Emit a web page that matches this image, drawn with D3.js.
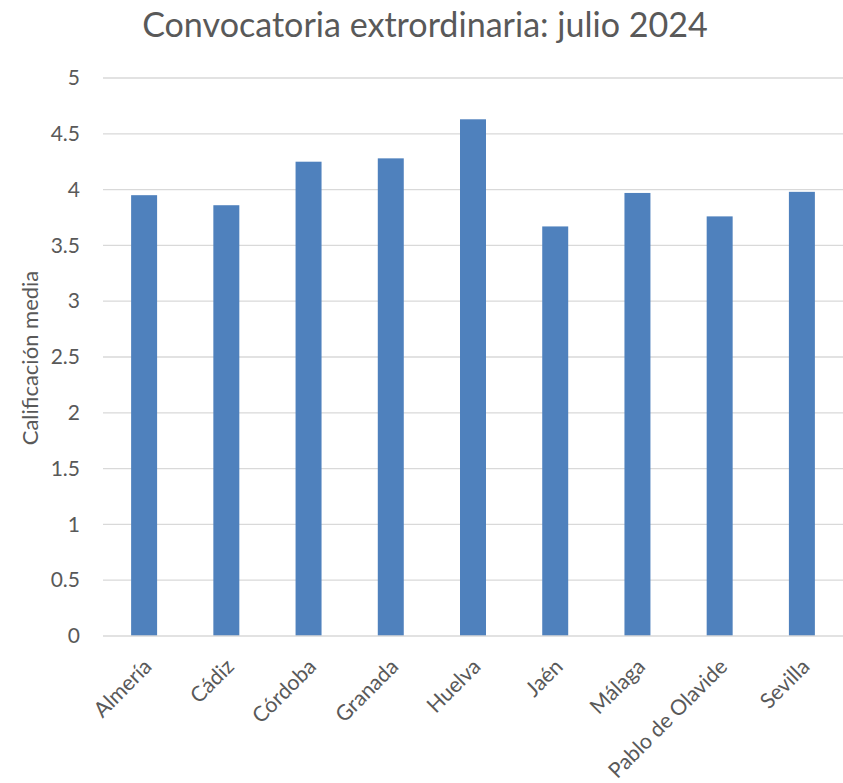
<!DOCTYPE html>
<html>
<head>
<meta charset="utf-8">
<script src="https://cdn.jsdelivr.net/npm/d3@7"></script>
<style>
  body { margin: 0; background: #fff; }
  text { font-family: Lato, "Open Sans", sans-serif; fill: #595959; }
</style>
</head>
<body>
<div class="chart"></div>
<script>
var categories = ["Almería", "Cádiz", "Córdoba", "Granada", "Huelva", "Jaén", "Málaga", "Pablo de Olavide", "Sevilla"];
var values = [3.95, 3.86, 4.25, 4.28, 4.63, 3.67, 3.97, 3.76, 3.98];
var yTicks = [0, 0.5, 1, 1.5, 2, 2.5, 3, 3.5, 4, 4.5, 5];
var title = "Convocatoria extrordinaria: julio 2024";
var yTitle = "Calificación media";

var svgWidth = 843;
var svgHeight = 783;

var margin = { top: 78, right: 0, bottom: 147, left: 103 };
var width = svgWidth - margin.left - margin.right;
var height = svgHeight - margin.top - margin.bottom;

var svg = d3.select(".chart")
  .append("svg")
  .attr("width", svgWidth)
  .attr("height", svgHeight);

var chartGroup = svg.append("g")
  .attr("transform", `translate(${margin.left}, ${margin.top})`);

var x = d3.scaleBand()
  .domain(categories)
  .range([0, width])
  .paddingInner(0.684)
  .paddingOuter(0.342);

var y = d3.scaleLinear()
  .domain([0, 5])
  .range([height, 0]);

// gridlines
chartGroup.append("g")
  .selectAll("line")
  .data(yTicks.filter(d => d > 0))
  .enter().append("line")
  .attr("x1", 0)
  .attr("x2", width)
  .attr("y1", d => y(d))
  .attr("y2", d => y(d))
  .attr("stroke", "#d9d9d9")
  .attr("stroke-width", 1.3);

// bars
chartGroup.selectAll(".bar")
  .data(values)
  .enter().append("rect")
  .attr("class", "bar")
  .attr("x", (d, i) => x(categories[i]))
  .attr("y", d => y(d))
  .attr("width", x.bandwidth())
  .attr("height", d => height - y(d))
  .attr("fill", "#4f81bd");

// x axis line
chartGroup.append("line")
  .attr("x1", 0)
  .attr("x2", width)
  .attr("y1", height)
  .attr("y2", height)
  .attr("stroke", "#d9d9d9")
  .attr("stroke-width", 1.3);

// y tick labels
var leftAxis = d3.axisLeft(y).tickValues(yTicks).tickSize(0).tickPadding(23)
  .tickFormat(d => String(d));
chartGroup.append("g")
  .call(leftAxis)
  .call(g => g.select(".domain").remove())
  .selectAll("text")
  .style("font-size", "21px")
  .attr("fill", "#595959");

// x labels
var bottomAxis = d3.axisBottom(x).tickSize(0).tickPadding(0);
chartGroup.append("g")
  .attr("transform", `translate(0, ${height})`)
  .call(bottomAxis)
  .call(g => g.select(".domain").remove())
  .selectAll("text")
  .style("font-size", "21.3px")
  .attr("fill", "#595959")
  .attr("y", 0)
  .attr("x", 0)
  .attr("dy", 0)
  .attr("transform", "translate(9, 32) rotate(-45)")
  .style("text-anchor", "end");

// y title
svg.append("text")
  .attr("transform", "translate(38, 358) rotate(-90)")
  .attr("text-anchor", "middle")
  .style("font-size", "22px")
  .text(yTitle);

// chart title
var t = svg.append("text")
  .attr("x", 425)
  .attr("y", 37)
  .attr("text-anchor", "middle")
  .style("font-size", "30px")
  .text(title);
var len = t.node().getComputedTextLength();
t.style("font-size", (30 * 566 / len) + "px");
</script>
</body>
</html>
